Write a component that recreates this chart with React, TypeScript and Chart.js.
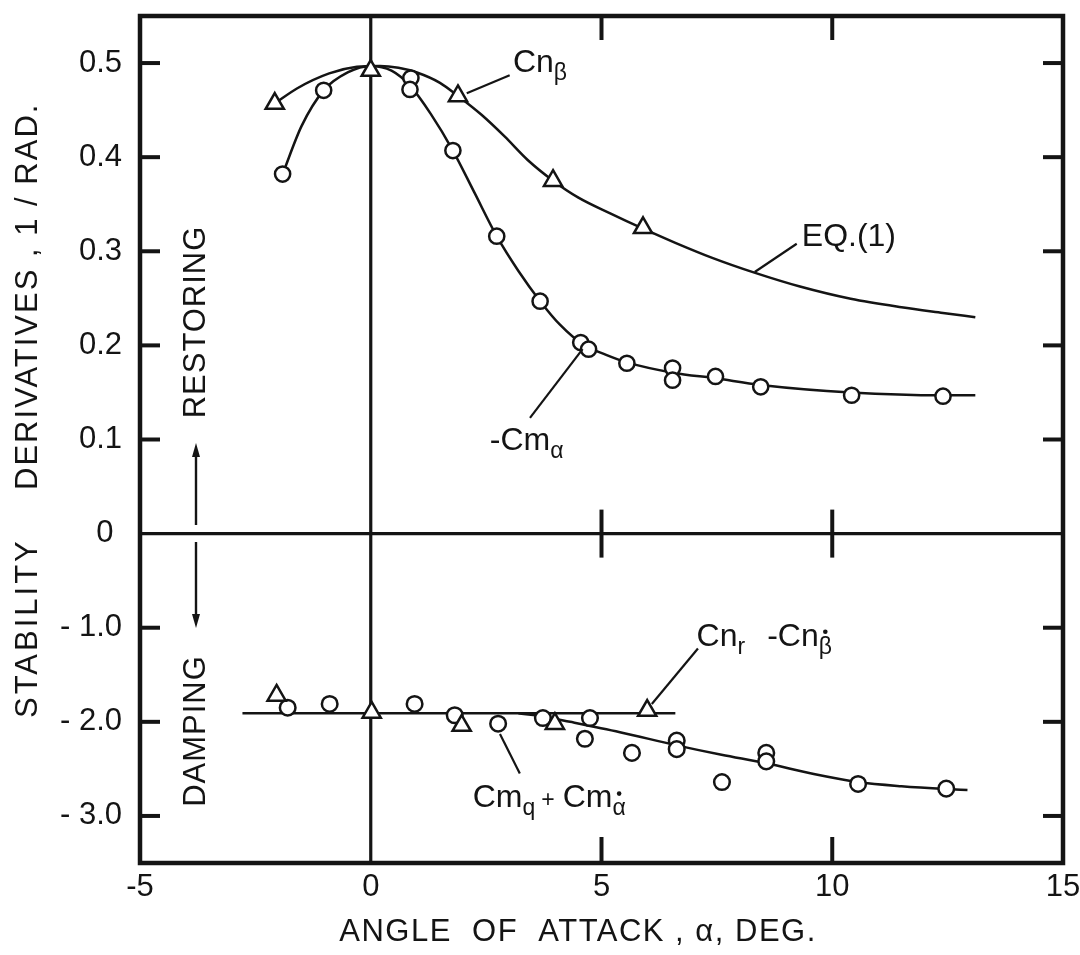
import React, { useEffect, useRef } from "react";
import { Chart, LinearScale, registerables } from "chart.js";

Chart.register(...registerables);

// ---------- data ----------
// Upper panel (restoring), real values 1/rad
const cnBetaAlpha = [-2.08, 0.0, 1.89, 3.95, 5.9];
const cnBetaValue = [0.457, 0.492, 0.465, 0.375, 0.325];

const eqCurveAlpha = [-2.08, -1.6, -0.9, -0.3, 0.2, 0.6, 1.0, 1.5, 1.89, 2.4, 2.9, 3.4, 3.95, 4.5, 5.2, 5.9, 6.6, 7.4, 8.33, 9.3, 10.4, 11.5, 12.4, 13.1];
const eqCurveValue = [0.457, 0.473, 0.489, 0.496, 0.497, 0.495, 0.49, 0.479, 0.465, 0.445, 0.422, 0.397, 0.375, 0.357, 0.34, 0.324, 0.309, 0.293, 0.277, 0.2625, 0.2495, 0.2405, 0.2345, 0.23];

const cmAlphaPtsAlpha = [-1.91, -1.02, 0.87, 0.85, 1.78, 2.73, 3.67, 4.55, 4.72, 5.55, 6.54, 6.54, 7.47, 8.45, 10.42, 12.4];
const cmAlphaPtsValue = [0.382, 0.471, 0.484, 0.472, 0.407, 0.316, 0.247, 0.203, 0.196, 0.181, 0.176, 0.163, 0.167, 0.156, 0.147, 0.146];

const cmAlphaCurveAlpha = [-1.91, -1.5, -1.02, -0.5, 0.0, 0.45, 0.85, 1.3, 1.78, 2.25, 2.73, 3.2, 3.67, 4.1, 4.6, 5.1, 5.55, 6.55, 7.47, 8.45, 10.4, 12.4, 13.1];
const cmAlphaCurveValue = [0.382, 0.433, 0.471, 0.49, 0.497, 0.492, 0.476, 0.446, 0.407, 0.362, 0.316, 0.279, 0.247, 0.222, 0.201, 0.19, 0.182, 0.171, 0.165, 0.158, 0.15, 0.147, 0.147];

// Lower panel (damping)
const cnrPtsAlpha = [-2.04, 0.02, 1.97, 3.99, 5.99];
const cnrPtsValue = [-1.72, -1.9, -2.04, -2.02, -1.88];

const cnrLineAlpha = [-2.78, 6.6];
const cnrLineValue = [-1.91, -1.91];

const cmqPtsAlpha = [-1.8, -0.89, 0.95, 1.82, 2.76, 3.73, 4.75, 4.64, 5.66, 6.63, 6.63, 7.61, 8.57, 8.57, 10.56, 12.47];
const cmqPtsValue = [-1.85, -1.81, -1.81, -1.93, -2.02, -1.96, -1.96, -2.18, -2.33, -2.2, -2.29, -2.64, -2.33, -2.42, -2.66, -2.71];

const cmqCurveAlpha = [3.2, 3.7, 4.32, 5.4, 6.63, 7.6, 8.57, 9.6, 10.56, 11.5, 12.47, 12.93];
const cmqCurveValue = [-1.91, -1.94, -2.0, -2.11, -2.25, -2.35, -2.44, -2.555, -2.64, -2.685, -2.715, -2.725];

// Axes
const xTickValues = [-5, 0, 5, 10, 15];
const xTickLabels = ["-5", "0", "5", "10", "15"];
const yTickValues = [0.5, 0.4, 0.3, 0.2, 0.1, 0, -1, -2, -3];
const yTickLabels = ["0.5", "0.4", "0.3", "0.2", "0.1", "0 ", "- 1.0", "- 2.0", "- 3.0"];
const innerXTicks = [5, 10];

// ---------- style / layout ----------
const INK = "#141414";
const FONT = "'Liberation Sans', Arial, sans-serif";
const UPPER_FACTOR = 10; // upper half: 0.1 per unit of the lower half

class SplitScale extends LinearScale {
  static id = "split";
  static defaults = {};
  getPixelForValue(value: number) {
    return super.getPixelForValue(value > 0 ? value * UPPER_FACTOR : value);
  }
  getValueForPixel(pixel: number) {
    const v = super.getValueForPixel(pixel);
    return v > 0 ? v / UPPER_FACTOR : v;
  }
}
Chart.register(SplitScale as any);

const pts = (xs: number[], ys: number[]) => xs.map((x, i) => ({ x, y: ys[i] }));

type Seg = { t: string; sub?: boolean; dot?: boolean; dx?: number; small?: boolean };
const labels: { x: number; y: number; segs: Seg[] }[] = [
  { x: 3.08, y: 0.491, segs: [{ t: "Cn" }, { t: "β", sub: true }] },
  { x: 9.34, y: 0.306, segs: [{ t: "EQ.(1)" }] },
  { x: 2.58, y: 0.089, segs: [{ t: "-Cm" }, { t: "α", sub: true }] },
  { x: 7.06, y: -1.19, segs: [{ t: "Cn" }, { t: "r", sub: true }, { t: "-Cn", dx: 22 }, { t: "β", sub: true, dot: true }] },
  { x: 2.21, y: -2.91, segs: [{ t: "Cm" }, { t: "q", sub: true }, { t: "+", small: true, dx: 6 }, { t: "Cm", dx: 8 }, { t: "α", sub: true, dot: true }] },
];
const leaders: [number, number, number, number][] = [
  [2.08, 0.468, 3.01, 0.487],
  [8.32, 0.278, 9.23, 0.308],
  [4.59, 0.196, 3.45, 0.123],
  [6.09, -1.81, 7.09, -1.22],
  [2.8, -2.13, 3.23, -2.55],
];

const decor = {
  id: "decor",
  beforeDatasetsDraw(chart: any) {
    const { ctx, chartArea: a, scales } = chart;
    const x = scales.x, y = scales.y;
    const seg = (x1: number, y1: number, x2: number, y2: number) => {
      ctx.beginPath(); ctx.moveTo(x1, y1); ctx.lineTo(x2, y2); ctx.stroke();
    };
    ctx.save();
    ctx.strokeStyle = INK;
    ctx.lineCap = "butt";
    const x0 = x.getPixelForValue(0), y0 = y.getPixelForValue(0);
    ctx.lineWidth = 3.2;
    seg(x0, a.top, x0, a.bottom);
    seg(a.left, y0, a.right, y0);
    ctx.lineWidth = 4;
    const TL = 20;
    yTickValues.forEach((v) => {
      if (v === 0) return;
      const p = y.getPixelForValue(v);
      seg(a.left, p, a.left + TL, p);
      seg(a.right, p, a.right - TL, p);
    });
    innerXTicks.forEach((v) => {
      const p = x.getPixelForValue(v);
      seg(p, a.top, p, a.top + TL + 4);
      seg(p, a.bottom, p, a.bottom - TL - 6);
      seg(p, y0 - 24, p, y0 + 24);
    });
    ctx.lineWidth = 4.5;
    ctx.strokeRect(a.left, a.top, a.right - a.left, a.bottom - a.top);
    ctx.restore();
  },
  afterDatasetsDraw(chart: any) {
    const { ctx, scales } = chart;
    const x = scales.x, y = scales.y;
    ctx.save();
    ctx.strokeStyle = INK;
    ctx.fillStyle = INK;
    ctx.lineWidth = 2.2;
    leaders.forEach(([a1, v1, a2, v2]) => {
      ctx.beginPath();
      ctx.moveTo(x.getPixelForValue(a1), y.getPixelForValue(v1));
      ctx.lineTo(x.getPixelForValue(a2), y.getPixelForValue(v2));
      ctx.stroke();
    });
    ctx.textBaseline = "alphabetic";
    ctx.textAlign = "left";
    labels.forEach((lab) => {
      let cx = x.getPixelForValue(lab.x);
      const by = y.getPixelForValue(lab.y);
      lab.segs.forEach((s) => {
        cx += s.dx || 0;
        const size = s.sub || s.small ? 23 : 32;
        ctx.font = `${size}px ${FONT}`;
        const yy = s.sub ? by + 8 : by;
        ctx.fillText(s.t, cx, yy);
        const w = ctx.measureText(s.t).width;
        if (s.dot) {
          ctx.beginPath();
          ctx.arc(cx + w / 2, yy - size * 0.95, 2.3, 0, Math.PI * 2);
          ctx.fill();
        }
        cx += w;
      });
    });
    ctx.restore();
  },
  afterDraw(chart: any) {
    const { ctx } = chart;
    ctx.save();
    ctx.fillStyle = INK;
    ctx.strokeStyle = INK;
    ctx.font = `31px ${FONT}`;
    const rot = (text: string, cx: number, cy: number, align: CanvasTextAlign) => {
      ctx.save();
      ctx.translate(cx, cy);
      ctx.rotate(-Math.PI / 2);
      ctx.textAlign = align;
      ctx.textBaseline = "middle";
      ctx.fillText(text, 0, 0);
      ctx.restore();
    };
    (ctx as any).letterSpacing = "3px";
    rot("STABILITY", 28, 718, "left");
    (ctx as any).letterSpacing = "2px";
    rot("DERIVATIVES , 1 / RAD.", 28, 490, "left");
    (ctx as any).letterSpacing = "1px";
    rot("RESTORING", 196, 322, "center");
    rot("DAMPING", 196, 731, "center");
    (ctx as any).letterSpacing = "1.5px";
    ctx.textAlign = "center";
    ctx.textBaseline = "middle";
    ctx.fillText("ANGLE  OF  ATTACK , α, DEG.", 578, 932);
    (ctx as any).letterSpacing = "0px";
    // arrows
    const arrow = (xa: number, y1: number, y2: number) => {
      const dir = y2 < y1 ? -1 : 1;
      ctx.lineWidth = 2.4;
      ctx.beginPath(); ctx.moveTo(xa, y1); ctx.lineTo(xa, y2 - dir * 10); ctx.stroke();
      ctx.beginPath();
      ctx.moveTo(xa, y2);
      ctx.lineTo(xa - 4, y2 - dir * 14);
      ctx.lineTo(xa + 4, y2 - dir * 14);
      ctx.closePath();
      ctx.fill();
    };
    arrow(196, 525, 443);
    arrow(196, 542, 628);
    ctx.restore();
  },
};

export default function App() {
  const ref = useRef<HTMLCanvasElement>(null);
  useEffect(() => {
    document.body.style.margin = "0";
    const lineDs = (label: string, xs: number[], ys: number[]) => ({
      label,
      data: pts(xs, ys),
      showLine: true,
      borderColor: INK,
      borderWidth: 2.5,
      pointRadius: 0,
      cubicInterpolationMode: "monotone" as const,
      fill: false,
      order: 2,
    });
    const markDs = (label: string, xs: number[], ys: number[], style: string, r: number) => ({
      label,
      data: pts(xs, ys),
      showLine: false,
      pointStyle: style,
      pointRadius: r,
      pointBorderWidth: 2.5,
      pointBorderColor: INK,
      pointBackgroundColor: "#ffffff",
      order: 1,
    });
    const chart = new Chart(ref.current!, {
      type: "scatter",
      data: {
        datasets: [
          markDs("Cnβ", cnBetaAlpha, cnBetaValue, "triangle", 10.5),
          markDs("-Cmα", cmAlphaPtsAlpha, cmAlphaPtsValue, "circle", 7.6),
          markDs("Cnr - Cnβ̇", cnrPtsAlpha, cnrPtsValue, "triangle", 10.5),
          markDs("Cmq + Cmα̇", cmqPtsAlpha, cmqPtsValue, "circle", 7.8),
          lineDs("EQ. (1)", eqCurveAlpha, eqCurveValue),
          lineDs("-Cmα curve", cmAlphaCurveAlpha, cmAlphaCurveValue),
          lineDs("Cnr - Cnβ̇ fairing", cnrLineAlpha, cnrLineValue),
          lineDs("Cmq + Cmα̇ curve", cmqCurveAlpha, cmqCurveValue),
        ] as any,
      },
      options: {
        responsive: false,
        animation: false,
        events: [],
        layout: { padding: { top: 16, right: 17, left: 0, bottom: 0 } },
        plugins: { legend: { display: false }, tooltip: { enabled: false } },
        scales: {
          x: {
            type: "linear",
            min: -5,
            max: 15,
            afterBuildTicks: (s: any) => { s.ticks = xTickValues.map((v) => ({ value: v })); },
            afterFit: (s: any) => { s.height = 92; s.paddingLeft = 0; s.paddingRight = 0; },
            grid: { display: false, drawTicks: false },
            border: { display: false },
            ticks: {
              autoSkip: false,
              maxRotation: 0,
              padding: 6,
              color: INK,
              font: { family: FONT, size: 31 },
              callback: (_v: any, i: number) => xTickLabels[i],
            },
          },
          y: {
            type: "split" as any,
            min: -3.5,
            max: 5.5,
            bounds: "data",
            afterBuildTicks: (s: any) => { s.ticks = yTickValues.map((v) => ({ value: v })); },
            afterFit: (s: any) => { s.width = 140; s.paddingTop = 0; s.paddingBottom = 0; },
            grid: { display: false, drawTicks: false },
            border: { display: false },
            ticks: {
              autoSkip: false,
              padding: 18,
              color: INK,
              font: { family: FONT, size: 31 },
              callback: (_v: any, i: number) => yTickLabels[i],
            },
          } as any,
        },
      },
      plugins: [decor],
    });
    return () => chart.destroy();
  }, []);
  return (
    <div style={{ width: 1080, height: 955, background: "#ffffff" }}>
      <canvas ref={ref} width={1080} height={955} style={{ display: "block", width: 1080, height: 955 }} />
    </div>
  );
}
